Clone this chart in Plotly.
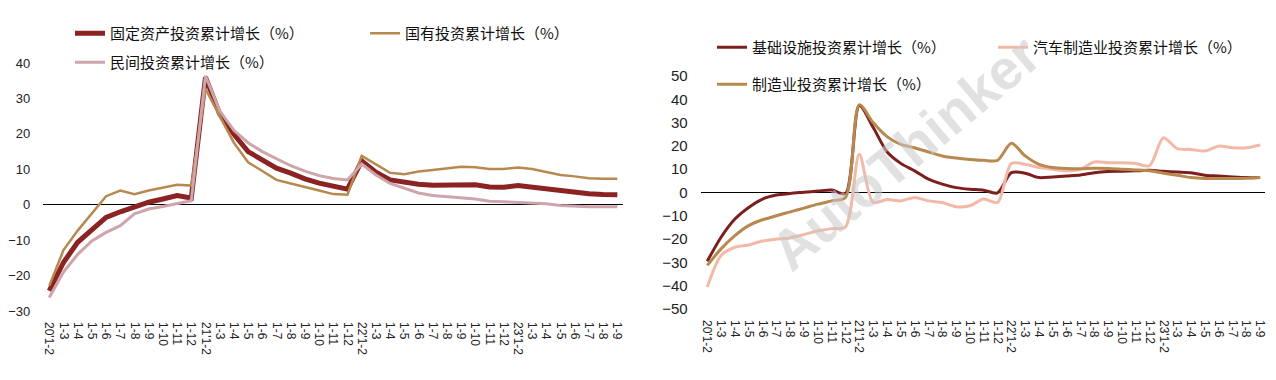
import plotly.graph_objects as go

# ---------------- data ----------------
tick_labels = ["20'1-2", "1-3", "1-4", "1-5", "1-6", "1-7", "1-8", "1-9", "1-10", "1-11", "1-12",
               "21'1-2", "1-3", "1-4", "1-5", "1-6", "1-7", "1-8", "1-9", "1-10", "1-11", "1-12",
               "22'1-2", "1-3", "1-4", "1-5", "1-6", "1-7", "1-8", "1-9", "1-10", "1-11", "1-12",
               "23'1-2", "1-3", "1-4", "1-5", "1-6", "1-7", "1-8", "1-9"]
x_idx = list(range(len(tick_labels)))

# left chart
fai = [-24.3, -16.3, -10.6, -6.9, -3.6, -2.0, -0.6, 0.7, 1.6, 2.6, 1.9,
       36.0, 25.6, 19.9, 15.0, 12.6, 10.3, 8.9, 7.3, 6.1, 5.2, 4.4,
       12.4, 9.2, 7.0, 6.3, 5.8, 5.5, 5.6, 5.7, 5.6, 5.0, 4.9,
       5.4, 4.9, 4.4, 3.8, 3.5, 3.1, 2.9, 2.8]
state = [-22.9, -12.8, -7.3, -2.6, 2.4, 4.0, 3.0, 4.0, 4.9, 5.6, 5.4,
         32.7, 25.0, 17.5, 12.0, 9.6, 7.0, 6.0, 4.9, 4.0, 3.0, 2.8,
         13.8, 11.5, 9.0, 8.6, 9.4, 9.8, 10.2, 10.7, 10.6, 10.1, 10.1,
         10.5, 10.1, 9.3, 8.4, 8.0, 7.5, 7.3, 7.3]
private = [-26.2, -19.0, -14.0, -10.2, -7.8, -5.9, -2.6, -1.2, -0.5, 0.4, 1.1,
           36.4, 26.5, 21.0, 17.5, 15.0, 13.0, 11.0, 9.5, 8.2, 7.4, 7.0,
           11.5, 8.4, 6.0, 4.6, 3.3, 2.6, 2.3, 2.1, 1.6, 1.0, 0.8,
           0.7, 0.6, 0.3, -0.2, -0.5, -0.6, -0.6, -0.6]

# right chart
infra = [-29.5, -19.2, -11.4, -6.4, -2.8, -1.1, -0.4, 0.1, 0.6, 1.1, -0.5,
         37.3, 28.0, 17.5, 12.5, 9.3, 5.7, 3.6, 2.1, 1.4, 1.0, -0.2,
         8.5, 8.3, 6.4, 6.7, 7.1, 7.5, 8.5, 9.0, 9.1, 9.3, 9.5,
         9.1, 8.8, 8.5, 7.4, 7.1, 6.7, 6.4, 6.4]
auto = [-40.6, -27.0, -23.5, -22.5, -20.8, -20.0, -19.5, -18.0, -16.5, -15.5, -14.8,
        16.4, -4.2, -3.0, -3.6, -2.1, -3.6, -4.3, -6.1, -5.7, -2.8, -4.3,
        12.5, 12.1, 10.7, 10.0, 9.3, 10.0, 13.1, 12.8, 12.8, 12.4, 11.5,
        23.5, 18.8, 18.5, 17.8, 19.9, 19.2, 19.2, 20.4]
manu = [-31.3, -24.2, -18.5, -14.2, -11.7, -10.0, -8.3, -6.7, -5.0, -3.6, -2.1,
        37.7, 30.0, 24.0, 20.7, 19.2, 17.4, 15.7, 14.8, 14.2, 13.8, 13.8,
        21.1, 15.7, 12.1, 10.7, 10.3, 10.2, 10.4, 10.3, 10.0, 9.7, 9.3,
        8.3, 7.4, 6.4, 6.0, 6.0, 6.0, 6.1, 6.4]

names_left = ["固定资产投资累计增长（%）", "国有投资累计增长（%）", "民间投资累计增长（%）"]
names_right = ["基础设施投资累计增长（%）", "汽车制造业投资累计增长（%）", "制造业投资累计增长（%）"]

# ---------------- figure ----------------
W, H = 1276, 380
C_DARK = "#8B2323"
C_GOLD = "#B8894F"
C_MAUVE = "#CDA5AB"
C_DARK2 = "#7E1F1F"
C_SALMON = "#F2B9A7"

fig = go.Figure()
fig.add_trace(go.Scatter(x=x_idx, y=fai, name=names_left[0], mode="lines",
                         line=dict(color=C_DARK, width=5), xaxis="x", yaxis="y", legend="legend"))
fig.add_trace(go.Scatter(x=x_idx, y=state, name=names_left[1], mode="lines",
                         line=dict(color=C_GOLD, width=2.5), xaxis="x", yaxis="y", legend="legend"))
fig.add_trace(go.Scatter(x=x_idx, y=private, name=names_left[2], mode="lines",
                         line=dict(color=C_MAUVE, width=3), xaxis="x", yaxis="y", legend="legend3"))

fig.add_trace(go.Scatter(x=x_idx, y=infra, name=names_right[0], mode="lines",
                         line=dict(color=C_DARK2, width=3, shape="spline", smoothing=0.8),
                         xaxis="x2", yaxis="y2", legend="legend2"))
fig.add_trace(go.Scatter(x=x_idx, y=auto, name=names_right[1], mode="lines",
                         line=dict(color=C_SALMON, width=3, shape="spline", smoothing=0.8),
                         xaxis="x2", yaxis="y2", legend="legend2"))
fig.add_trace(go.Scatter(x=x_idx, y=manu, name=names_right[2], mode="lines",
                         line=dict(color=C_GOLD, width=3, shape="spline", smoothing=0.8),
                         xaxis="x2", yaxis="y2", legend="legend4"))

tickfont_left = dict(family="Liberation Sans, Arial, sans-serif", size=12, color="#222")
tickfont_right = dict(family="Liberation Sans, Arial, sans-serif", size=12, color="#222")
ytickfont_left = dict(family="Liberation Sans, Arial, sans-serif", size=13, color="#222")
ytickfont_right = dict(family="Liberation Sans, Arial, sans-serif", size=15, color="#222")

def px_x(p):
    return p / W

def px_y(p):
    return (H - p) / H

common_x = dict(tickmode="array", tickvals=x_idx, ticktext=tick_labels, tickangle=90,
                showgrid=False, zeroline=False, showline=False, ticks="", ticklabelstandoff=10,
                automargin=False)
common_y = dict(showgrid=False, zeroline=True, zerolinecolor="#000", zerolinewidth=1,
                showline=False, ticks="", dtick=10, ticklabelstandoff=12, automargin=False)

legend_font = dict(family="Noto Sans CJK SC, sans-serif", size=15, color="#111")
legend_common = dict(orientation="h", xanchor="left", yanchor="top", bgcolor="rgba(0,0,0,0)",
                     font=legend_font, itemwidth=30, tracegroupgap=0)

fig.update_layout(
    width=W, height=H, margin=dict(l=0, r=0, t=0, b=0, autoexpand=False),
    paper_bgcolor="white", plot_bgcolor="white",
    xaxis=dict(domain=[px_x(43.3), px_x(623.3)], range=[-0.42, 40.42], anchor="y",
               tickfont=tickfont_left, **common_x),
    yaxis=dict(domain=[px_y(311), px_y(63)], range=[-30, 40], anchor="x",
               tickfont=ytickfont_left, **common_y),
    xaxis2=dict(domain=[px_x(700.6), px_x(1265)], range=[-0.48, 40.35], anchor="y2",
                tickfont=tickfont_right, **common_x),
    yaxis2=dict(domain=[px_y(309), px_y(76)], range=[-50, 50], anchor="x2",
                tickfont=ytickfont_right, **common_y),
    legend=dict(x=px_x(70), y=px_y(17), entrywidth=250, **legend_common),
    legend3=dict(x=px_x(70), y=px_y(46), entrywidth=250, **legend_common),
    legend2=dict(x=px_x(712), y=px_y(31), entrywidth=236, **legend_common),
    legend4=dict(x=px_x(712), y=px_y(68), entrywidth=236, **legend_common),
    showlegend=True,
)

# faint watermark
fig.add_annotation(text="<b>AutoThinker</b>", x=px_x(905), y=px_y(152), xref="paper", yref="paper",
                   xanchor="center", yanchor="middle",
                   showarrow=False, textangle=-40,
                   font=dict(family="Liberation Sans, Arial, sans-serif", size=56, color="rgba(200,200,200,0.55)"))

fig.write_html("out.html", config={"displayModeBar": False},
               post_script="document.body.style.margin='0px';")
